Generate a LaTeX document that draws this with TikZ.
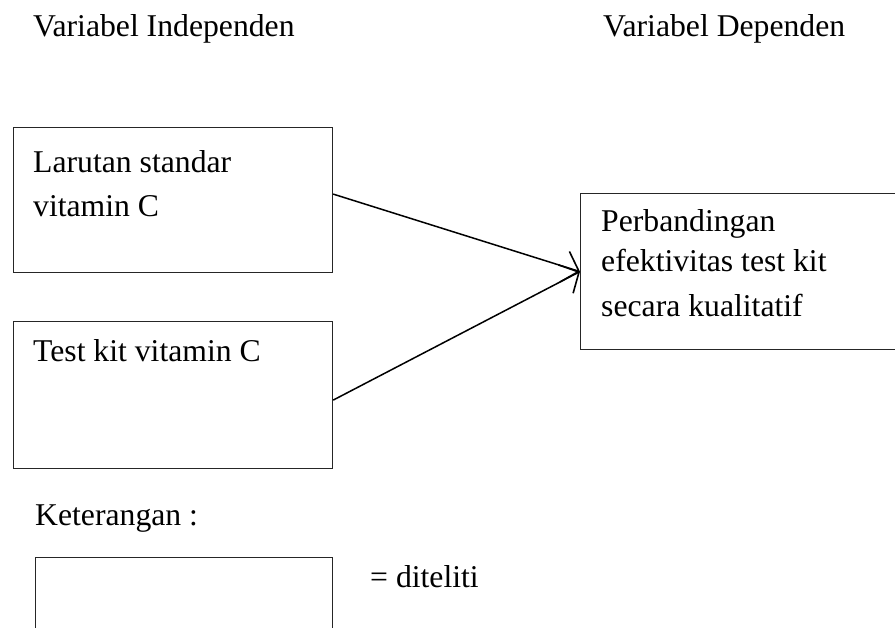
\documentclass[tikz,border=0pt]{standalone}
\usepackage{fontspec}
\setmainfont{Liberation Serif}
\usetikzlibrary{arrows.meta}
\begin{document}
\begin{tikzpicture}[x=1pt,y=-1pt,
  txt/.style={anchor=base west,inner sep=0pt,font=\fontsize{31.7}{43}\selectfont},
  boxnode/.style={draw=black!85,line width=1.2pt,anchor=north west,inner sep=0pt},
  conn/.style={line width=1.5pt,-{Straight Barb[length=15pt,width=32pt,line width=1.6pt]}}]
\clip (0,0) rectangle (895,628);
\useasboundingbox (0,0) rectangle (895,628);
% headers
\node[txt] (hi) at (33,37) {Variabel Independen};
\node[txt] (hd) at (603,37) {Variabel Dependen};
% boxes
\node[boxnode,minimum width=319pt,minimum height=145pt] (b1) at (13,127) {};
\node[boxnode,minimum width=319pt,minimum height=147pt] (b2) at (13,321) {};
\node[boxnode,minimum width=340pt,minimum height=156pt] (rb) at (580,193) {};
\node[boxnode,minimum width=297pt,minimum height=110pt] (lg) at (35,557) {};
% box texts
\node[txt] (t1a) at (33,173) {Larutan standar};
\node[txt] (t1b) at (33,217) {vitamin C};
\node[txt] (t2) at (33,362) {Test kit vitamin C};
\node[txt] (r1) at (601,232) {Perbandingan};
\node[txt] (r2) at (601,272) {efektivitas test kit};
\node[txt] (r3) at (601,317) {secara kualitatif};
% legend
\node[txt] (ket) at (35,525) {Keterangan :};
\node[txt] (dit) at (370,587) {= diteliti};
% connectors
\draw[conn] ([yshift=6pt]b1.east) -- (rb.west);
\draw[conn] ([yshift=-5pt]b2.east) -- (rb.west);
\end{tikzpicture}
\end{document}
